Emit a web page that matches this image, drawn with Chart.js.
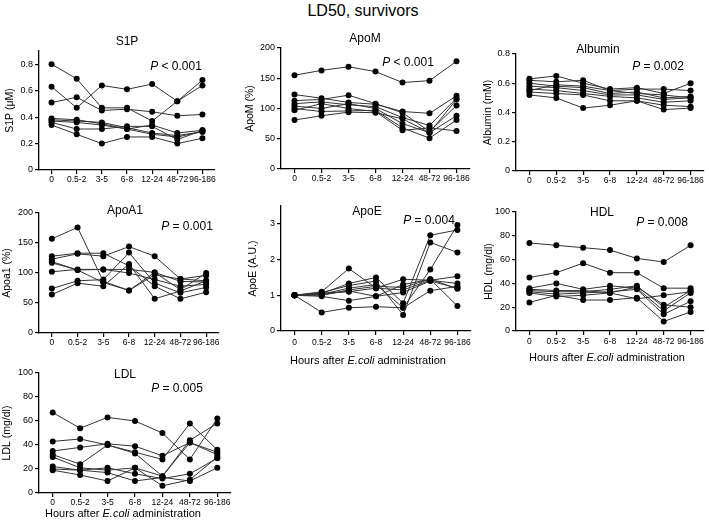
<!DOCTYPE html>
<html>
<head>
<meta charset="utf-8">
<script src="https://cdn.jsdelivr.net/npm/chart.js@4.4.0/dist/chart.umd.min.js"></script>
<style>
  body { margin: 0; width: 709px; height: 524px; background: #fff; position: relative; overflow: hidden;
         font-family: "Liberation Sans", Arial, sans-serif; color: #000; }
  canvas { position: absolute; }
  .lbl { position: absolute; transform: translate(-50%, -50%); white-space: nowrap; }
</style>
</head>
<body>
<script>
// ---- data (one row per animal, one value per time window) ----
const hours = ["0", "0.5-2", "3-5", "6-8", "12-24", "48-72", "96-186"];

const s1p = [
  [0.80, 0.69, 0.47, 0.47, 0.37, 0.52, 0.64],
  [0.63, 0.47, 0.64, 0.61, 0.65, 0.52, 0.68],
  [0.51, 0.55, 0.45, 0.46, 0.44, 0.41, 0.42],
  [0.39, 0.38, 0.35, 0.31, 0.34, 0.28, 0.30],
  [0.38, 0.37, 0.36, 0.32, 0.28, 0.26, 0.29],
  [0.36, 0.31, 0.31, 0.33, 0.33, 0.23, 0.30],
  [0.37, 0.36, 0.34, 0.31, 0.27, 0.25, 0.29],
  [0.34, 0.27, 0.20, 0.25, 0.25, 0.20, 0.24]
];
const apoM = [
  [155, 163, 169, 161, 143, 146, 178],
  [123, 117, 110, 107, 95, 92, 121],
  [113, 115, 122, 108, 93, 62, 105],
  [108, 111, 106, 103, 85, 72, 117],
  [104, 100, 108, 100, 75, 60, 88],
  [100, 95, 96, 97, 68, 51, 81],
  [97, 108, 100, 95, 64, 68, 63],
  [81, 88, 94, 93, 83, 60, 115]
];
const albumin = [
  [0.63, 0.65, 0.60, 0.56, 0.57, 0.53, 0.60],
  [0.62, 0.61, 0.62, 0.55, 0.56, 0.56, 0.55],
  [0.60, 0.58, 0.57, 0.53, 0.54, 0.50, 0.51],
  [0.58, 0.57, 0.55, 0.52, 0.52, 0.49, 0.50],
  [0.56, 0.55, 0.53, 0.51, 0.50, 0.47, 0.48],
  [0.54, 0.53, 0.52, 0.48, 0.48, 0.45, 0.44],
  [0.52, 0.50, 0.43, 0.45, 0.48, 0.42, 0.43],
  [0.55, 0.59, 0.58, 0.55, 0.53, 0.52, 0.50]
];
const apoA1 = [
  [157, 176, 86, 71, 101, 86, 85],
  [128, 133, 133, 112, 78, 57, 68],
  [123, 132, 128, 144, 128, 90, 96],
  [119, 105, 106, 106, 101, 72, 100],
  [117, 105, 84, 71, 97, 90, 87],
  [102, 106, 106, 100, 89, 78, 81],
  [74, 87, 89, 134, 83, 67, 76],
  [64, 83, 78, 115, 57, 70, 87]
];
const apoE = [
  [1, 1.10, 1.75, 1.20, 1.45, 1.42, 1.53],
  [1, 1.05, 1.33, 1.50, 0.78, 2.68, 2.83],
  [1, 1.08, 1.27, 1.40, 0.45, 2.48, 2.20],
  [1, 1.03, 1.20, 1.30, 0.65, 1.72, 2.97],
  [1, 1.00, 1.15, 1.25, 1.22, 1.45, 1.18],
  [1, 0.97, 0.85, 0.97, 1.30, 1.45, 0.70],
  [1, 0.52, 0.65, 0.68, 0.65, 1.13, 1.25],
  [1, 1.06, 1.10, 1.20, 1.15, 1.42, 1.33],
  [1, 1.02, 1.12, 0.97, 1.08, 1.40, 1.20]
];
const hdl = [
  [74, 72, 70, 68, 61, 58, 72],
  [45, 49, 57, 49, 49, 36, 36],
  [36, 40, 35, 38, 36, 17, 32],
  [34, 33, 33, 35, 38, 20, 34],
  [33, 31, 32, 33, 35, 14, 25],
  [32, 29, 30, 32, 37, 22, 20],
  [24, 30, 26, 26, 28, 8, 16],
  [35, 34, 34, 32, 27, 30, 33]
];
const ldl = [
  [67, 54, 63, 60, 50, 28, 62],
  [43, 45, 40, 34, 28, 58, 36],
  [35, 38, 41, 39, 31, 42, 34],
  [32, 24, 40, 33, 14, 44, 58],
  [30, 21, 19, 21, 14, 42, 32],
  [22, 19, 21, 16, 12, 16, 29],
  [20, 19, 17, 10, 13, 10, 21],
  [19, 15, 10, 21, 6, 11, 30]
];

Chart.defaults.font.family = '"Liberation Sans", Arial, sans-serif';
Chart.defaults.color = '#000';

function label(html, x, y, size) {
  const d = document.createElement('div');
  d.className = 'lbl';
  d.innerHTML = html;
  d.style.left = x + 'px';
  d.style.top = y + 'px';
  d.style.fontSize = size + 'px';
  document.body.appendChild(d);
}

// L/R/T/B = plot area in page px, ytx = centre of the y title
function panel(o) {
  const left = o.ytx - 6, top = o.T - 8;
  const yw = o.L - left, xh = 24;
  const w = o.R - left + 6, h = o.B - top + xh;
  const c = document.createElement('canvas');
  c.width = w; c.height = h;
  c.style.left = left + 'px'; c.style.top = top + 'px';
  c.style.width = w + 'px'; c.style.height = h + 'px';
  document.body.appendChild(c);

  new Chart(c, {
    type: 'line',
    data: {
      labels: hours,
      datasets: o.rows.map(r => ({
        data: r,
        borderColor: '#333',
        borderWidth: 1,
        pointRadius: 3,
        pointBackgroundColor: '#000',
        pointBorderWidth: 0,
        tension: 0,
        clip: false
      }))
    },
    options: {
      responsive: false,
      animation: false,
      layout: { padding: { top: 8, right: 6, left: 0, bottom: 0 } },
      plugins: { legend: { display: false }, tooltip: { enabled: false } },
      scales: {
        x: {
          offset: true,
          grid: { offset: false, drawOnChartArea: false, tickLength: 4, color: '#000', lineWidth: 1.2 },
          border: { color: '#000', width: 1.3 },
          ticks: { font: { size: 8.5 }, padding: o.xpad || 1, maxRotation: 0, autoSkip: false },
          afterFit: s => { s.height = xh; }
        },
        y: {
          min: 0, max: o.max,
          grid: { drawOnChartArea: false, tickLength: 4, color: '#000', lineWidth: 1.2 },
          border: { color: '#000', width: 1.3 },
          ticks: { stepSize: o.step, includeBounds: false, font: { size: 9 }, padding: 2 },
          title: { display: true, text: o.ytitle, font: { size: 10.5 }, padding: 0 },
          afterFit: s => { s.width = yw; }
        }
      }
    }
  });

  label(o.title, o.tx, o.ty, 12);
  label('<i>P</i> ' + o.p, o.px, o.py, 12);
  if (o.xtitle) label('Hours after <i>E.coli</i> administration', o.xtx, o.xty, 11);
}

label('LD50, survivors', 363, 11, 16);

panel({ rows: s1p, max: 0.9, step: 0.2, ytitle: 'S1P (\u03bcM)', L: 39, R: 215, T: 51, B: 170, ytx: 10,
        title: 'S1P', tx: 127, ty: 41, p: '&lt; 0.001', px: 176, py: 66 });
panel({ rows: apoM, max: 200, step: 50, ytitle: 'ApoM (%)', L: 281, R: 470, T: 48, B: 169, ytx: 250,
        title: 'ApoM', tx: 365, ty: 38, p: '&lt; 0.001', px: 408, py: 62 });
panel({ rows: albumin, max: 0.8, step: 0.2, ytitle: 'Albumin (mM)', L: 516, R: 704, T: 54, B: 171, ytx: 488,
        title: 'Albumin', tx: 598, ty: 49, p: '= 0.002', px: 658, py: 66 });
panel({ rows: apoA1, max: 200, step: 50, ytitle: 'Apoa1 (%)', L: 39, R: 219, T: 213, B: 333, ytx: 7,
        title: 'ApoA1', tx: 125, ty: 210, p: '= 0.001', px: 187, py: 226 });
panel({ rows: apoE, max: 3.5, step: 1, ytitle: 'ApoE (A.U.)', L: 281, R: 471, T: 206, B: 331, ytx: 253,
        title: 'ApoE', tx: 367, ty: 211, p: '= 0.004', px: 429, py: 220, xpad: 3,
        xtitle: true, xtx: 368, xty: 360 });
panel({ rows: hdl, max: 100, step: 20, ytitle: 'HDL (mg/dl)', L: 516, R: 704, T: 212, B: 331, ytx: 489,
        title: 'HDL', tx: 602, ty: 212, p: '= 0.008', px: 662, py: 222, xpad: 2,
        xtitle: true, xtx: 607, xty: 357 });
panel({ rows: ldl, max: 100, step: 20, ytitle: 'LDL (mg/dl)', L: 39, R: 231, T: 373, B: 493, ytx: 7,
        title: 'LDL', tx: 125, ty: 374, p: '= 0.005', px: 177, py: 388,
        xtitle: true, xtx: 123, xty: 513 });
</script>
</body>
</html>
